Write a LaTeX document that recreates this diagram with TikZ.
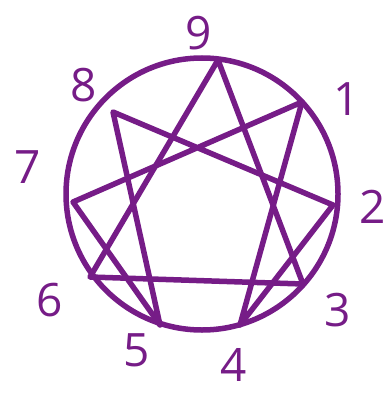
\documentclass[tikz,border=0pt]{standalone}
\usepackage{fontspec}
\setsansfont{Open Sans}
\definecolor{ink}{RGB}{118,28,135}
\begin{document}
\begin{tikzpicture}[x=1pt,y=-1pt,
  pen/.style={draw=ink,line width=5.5pt,line cap=round,line join=round},
  num/.style={text=ink,font=\sffamily\fontsize{46}{46}\selectfont,inner sep=0pt}]
\useasboundingbox[fill=white] (0,0) rectangle (391,398);
\node[draw=ink,line width=5.5pt,circle,minimum size=272pt,inner sep=0pt] (c) at (202,194) {};
\coordinate (p9) at (218,60);
\coordinate (p1) at (302,102);
\coordinate (p2) at (333,205);
\coordinate (p3) at (303,284);
\coordinate (p4) at (240,325);
\coordinate (p5) at (160,325);
\coordinate (p6) at (90,277);
\coordinate (p7) at (73,202);
\coordinate (p8) at (113,112);
\draw[pen] (p9) -- (p3) -- (p6) -- cycle;
\draw[pen] (p1) -- (p4) -- (p2) -- (p8) -- (p5) -- (p7) -- cycle;
\node[num] (l9) at (199,33) {9};
\node[num] (l1) at (347,99) {1};
\node[num] (l2) at (373,207) {2};
\node[num] (l3) at (338,310) {3};
\node[num] (l4) at (234,365) {4};
\node[num] (l5) at (137,350) {5};
\node[num] (l6) at (50,300) {6};
\node[num] (l7) at (28,167) {7};
\node[num] (l8) at (84,85) {8};
\end{tikzpicture}
\end{document}
